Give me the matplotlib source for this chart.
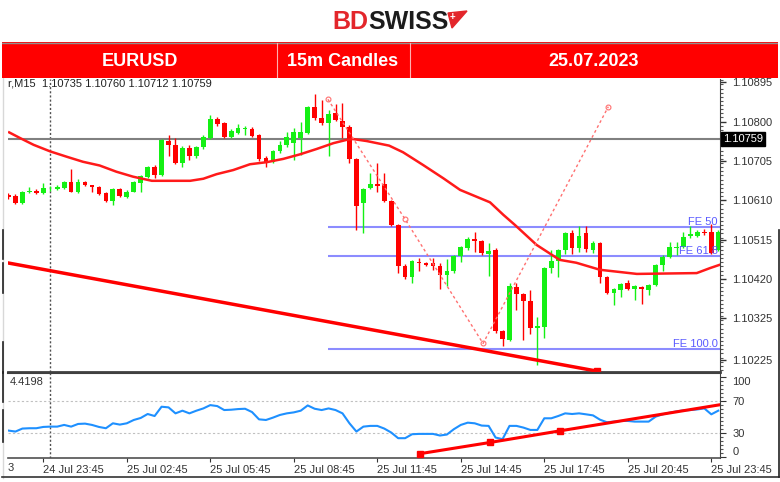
import numpy as np
import pandas as pd
import matplotlib
matplotlib.use("Agg")
import matplotlib.pyplot as plt
from matplotlib.patches import Rectangle, Polygon
from matplotlib.lines import Line2D
from matplotlib.ticker import FixedLocator, MultipleLocator

plt.rcParams['font.family'] = ['Liberation Sans', 'DejaVu Sans']

# ---- data (EURUSD M15) ----
times = pd.date_range("2023-07-24 22:30", periods=103, freq="15min")

opens = [1.10623, 1.10620, 1.10603, 1.10629, 1.10632, 1.10627, 1.10636, 1.10637, 1.10639, 1.10653,
         1.10631, 1.10653, 1.10646, 1.10641, 1.10627, 1.10608, 1.10637, 1.10619, 1.10631, 1.10651,
         1.10666, 1.10691, 1.10671, 1.10754, 1.10744, 1.10700, 1.10736, 1.10716, 1.10738, 1.10760,
         1.10806, 1.10796, 1.10764, 1.10773, 1.10782, 1.10782, 1.10767, 1.10713, 1.10703, 1.10728,
         1.10744, 1.10748, 1.10760, 1.10773, 1.10835, 1.10808, 1.10796, 1.10822, 1.10802, 1.10788,
         1.10709, 1.10603, 1.10639, 1.10649, 1.10649, 1.10607, 1.10550, 1.10451, 1.10425, 1.10462,
         1.10458, 1.10458, 1.10451, 1.10429, 1.10438, 1.10475, 1.10494, 1.10516, 1.10512, 1.10480,
         1.10490, 1.10293, 1.10273, 1.10401, 1.10383, 1.10367, 1.10301, 1.10303, 1.10446, 1.10464,
         1.10490, 1.10530, 1.10494, 1.10530, 1.10490, 1.10506, 1.10425, 1.10386, 1.10393, 1.10409,
         1.10395, 1.10401, 1.10393, 1.10405, 1.10454, 1.10474, 1.10494, 1.10498, 1.10523, 1.10524,
         1.10534, 1.10534, 1.10490]
highs = [1.10628, 1.10625, 1.10633, 1.10643, 1.10636, 1.10651, 1.10645, 1.10646, 1.10656, 1.10685,
         1.10661, 1.10657, 1.10648, 1.10644, 1.10630, 1.10640, 1.10640, 1.10634, 1.10656, 1.10672,
         1.10693, 1.10694, 1.10759, 1.10768, 1.10760, 1.10740, 1.10744, 1.10742, 1.10767, 1.10816,
         1.10810, 1.10800, 1.10782, 1.10794, 1.10790, 1.10786, 1.10770, 1.10716, 1.10731, 1.10752,
         1.10776, 1.10785, 1.10798, 1.10838, 1.10867, 1.10852, 1.10828, 1.10843, 1.10846, 1.10792,
         1.10712, 1.10640, 1.10677, 1.10701, 1.10677, 1.10610, 1.10553, 1.10455, 1.10466, 1.10470,
         1.10462, 1.10470, 1.10458, 1.10467, 1.10478, 1.10500, 1.10522, 1.10533, 1.10515, 1.10506,
         1.10494, 1.10296, 1.10409, 1.10411, 1.10386, 1.10392, 1.10327, 1.10449, 1.10490, 1.10493,
         1.10533, 1.10538, 1.10548, 1.10548, 1.10512, 1.10509, 1.10428, 1.10398, 1.10411, 1.10418,
         1.10406, 1.10404, 1.10408, 1.10457, 1.10477, 1.10508, 1.10508, 1.10534, 1.10548, 1.10537,
         1.10540, 1.10553, 1.10537]
lows = [1.10613, 1.10600, 1.10601, 1.10627, 1.10625, 1.10625, 1.10632, 1.10635, 1.10637, 1.10629,
        1.10628, 1.10644, 1.10631, 1.10623, 1.10605, 1.10599, 1.10617, 1.10616, 1.10629, 1.10631,
        1.10663, 1.10663, 1.10668, 1.10716, 1.10698, 1.10691, 1.10707, 1.10712, 1.10735, 1.10757,
        1.10790, 1.10760, 1.10760, 1.10771, 1.10768, 1.10762, 1.10706, 1.10690, 1.10700, 1.10725,
        1.10739, 1.10707, 1.10719, 1.10770, 1.10805, 1.10793, 1.10716, 1.10801, 1.10760, 1.10699,
        1.10538, 1.10530, 1.10636, 1.10631, 1.10606, 1.10547, 1.10435, 1.10419, 1.10411, 1.10438,
        1.10450, 1.10442, 1.10395, 1.10403, 1.10435, 1.10462, 1.10490, 1.10486, 1.10478, 1.10427,
        1.10290, 1.10258, 1.10270, 1.10345, 1.10273, 1.10287, 1.10212, 1.10276, 1.10435, 1.10425,
        1.10480, 1.10480, 1.10486, 1.10486, 1.10482, 1.10411, 1.10384, 1.10357, 1.10377, 1.10392,
        1.10369, 1.10360, 1.10381, 1.10402, 1.10438, 1.10471, 1.10478, 1.10495, 1.10518, 1.10521,
        1.10526, 1.10479, 1.10487]
closes = [1.10618, 1.10603, 1.10631, 1.10632, 1.10628, 1.10640, 1.10638, 1.10641, 1.10653, 1.10631,
          1.10653, 1.10646, 1.10643, 1.10626, 1.10608, 1.10637, 1.10620, 1.10631, 1.10653, 1.10669,
          1.10690, 1.10671, 1.10756, 1.10744, 1.10701, 1.10736, 1.10716, 1.10738, 1.10764, 1.10806,
          1.10794, 1.10764, 1.10778, 1.10784, 1.10785, 1.10765, 1.10709, 1.10701, 1.10728, 1.10744,
          1.10764, 1.10776, 1.10776, 1.10835, 1.10808, 1.10796, 1.10819, 1.10804, 1.10786, 1.10709,
          1.10596, 1.10637, 1.10649, 1.10645, 1.10609, 1.10550, 1.10450, 1.10424, 1.10463, 1.10458,
          1.10454, 1.10452, 1.10429, 1.10440, 1.10475, 1.10497, 1.10516, 1.10512, 1.10482, 1.10488,
          1.10293, 1.10274, 1.10403, 1.10383, 1.10367, 1.10301, 1.10305, 1.10446, 1.10464, 1.10490,
          1.10530, 1.10494, 1.10524, 1.10492, 1.10507, 1.10425, 1.10387, 1.10395, 1.10408, 1.10395,
          1.10403, 1.10395, 1.10405, 1.10454, 1.10474, 1.10497, 1.10498, 1.10522, 1.10528, 1.10534,
          1.10531, 1.10482, 1.10534]

# moving average, read at irregular candle positions
ma_pos = [0.1, 1.7, 3.6, 6.0, 8.4, 10.7, 13.1, 15.5, 17.9, 20.6, 26.1, 28.0, 29.9, 32.3, 34.7,
          37.1, 39.5, 41.9, 44.3, 46.7, 48.6, 49.5, 51.5, 54.7, 56.7, 59.6, 62.5, 64.9, 69.2,
          71.1, 72.8, 75.9, 79.2, 81.6, 85.0, 90.3, 98.9, 100.8, 102.2]
ma_val = [1.10774, 1.10760, 1.10744, 1.10728, 1.10715, 1.10703, 1.10694, 1.10679, 1.10667, 1.10657,
          1.10657, 1.10662, 1.10673, 1.10683, 1.10697, 1.10702, 1.10710, 1.10721, 1.10734, 1.10748,
          1.10756, 1.10758, 1.10753, 1.10742, 1.10726, 1.10695, 1.10663, 1.10635, 1.10605, 1.10575,
          1.10550, 1.10502, 1.10466, 1.10459, 1.10442, 1.10432, 1.10434, 1.10446, 1.10454]

last_price = 1.10759
header = "r,M15  1.10735 1.10760 1.10712 1.10759"

# fibo expansion tool
fe_pos = [45.9, 57.0, 68.2, 86.2]
fe_val = [1.10854, 1.10564, 1.10264, 1.10836]
fe_levels = [1.10546, 1.10476, 1.10251]
fe_names = ["FE 50", "FE 61.8", "FE 100.0"]

# trend line on price
tl_pos = [0.1, 84.6]
tl_val = [1.10458, 1.10197]

price_ticks = [1.10225, 1.10325, 1.10420, 1.10515, 1.10610, 1.10705, 1.10800, 1.10895]

# oscillator
osc = [33.2, 32.0, 35.7, 36.1, 36.1, 37.7, 38.1, 38.1, 40.2, 38.1,
       41.4, 41.8, 40.2, 37.7, 36.1, 42.2, 40.6, 42.2, 46.3, 48.8,
       53.7, 51.2, 62.7, 61.9, 54.5, 57.8, 54.5, 57.8, 60.6, 64.7,
       63.5, 58.6, 59.0, 59.8, 60.2, 56.1, 47.1, 46.3, 49.2, 52.5,
       54.5, 55.7, 57.8, 64.3, 60.2, 58.6, 60.6, 58.6, 54.5, 42.2,
       32.0, 38.1, 39.0, 39.0, 35.7, 30.8, 23.8, 23.8, 28.7, 29.1,
       29.1, 29.1, 27.1, 28.3, 34.9, 40.2, 43.0, 42.2, 39.4, 39.0,
       24.6, 22.6, 39.0, 39.0, 36.9, 34.0, 34.0, 48.4, 48.4, 51.2,
       54.5, 53.7, 54.5, 53.3, 52.0, 46.7, 43.5, 44.3, 45.1, 45.1,
       44.3, 44.3, 44.3, 50.4, 53.3, 55.3, 56.9, 58.2, 58.6, 59.4,
       60.6, 53.3, 57.8]
osc_tl_pos = [59.1, 69.2, 79.2, 102.5]
osc_tl_val = [4.6, 18.5, 32.8, 65.5]
osc_levels = [30, 70]
osc_ticks = [0, 30, 70, 100]
osc_value_text = "4.4198"

# ---- figure ----
W, H = 780, 482
fig = plt.figure(figsize=(W / 100, H / 100), dpi=100)


def box(x0, y0, x1, y1):
    return [x0 / W, 1 - y1 / H, (x1 - x0) / W, (y1 - y0) / H]


ax = fig.add_axes(box(8, 79, 720, 372))
ax2 = fig.add_axes(box(8, 373, 720, 458), sharex=ax)

green, red = "#14f014", "#ff0000"
idx = np.arange(len(times))
o, h, l, c = map(np.array, (opens, highs, lows, closes))
cols = np.where(c >= o, green, red)
ax.vlines(idx, l, h, colors=cols, lw=1, zorder=3)
body = np.maximum(np.abs(c - o), 0.00002)
ax.bar(idx, body, bottom=np.minimum(o, c), width=0.68, color=cols, zorder=4)

ax.plot(ma_pos, ma_val, color="#ff1a1a", lw=1.8, zorder=5)
ax.axhline(last_price, color="#808080", lw=1.5, zorder=2)
ax.plot(tl_pos, tl_val, color="#ff0000", lw=2.5, zorder=5)
ax.plot(tl_pos[-1:], tl_val[-1:], "s", color="#ff0000", ms=4, zorder=6, clip_on=False)
ax.plot(fe_pos, fe_val, color="#ff7070", lw=1, ls=(0, (2, 2)), zorder=5)
ax.plot(fe_pos, fe_val, "o", mfc="none", mec="#ff7070", ms=3.5, mew=0.8, zorder=5)
for lv, nm in zip(fe_levels, fe_names):
    ax.hlines(lv, fe_pos[0], 102.3, color="#8c8cff", lw=1.5, zorder=2)
    ax.text(0.997, lv, nm, transform=ax.get_yaxis_transform(), ha="right", va="bottom",
            color="#5a5aff", fontsize=8, zorder=7)

ax.axvline(6, color="#505050", lw=1, ls=(0, (1.5, 1.5)), zorder=1)
ax2.axvline(6, color="#505050", lw=1, ls=(0, (1.5, 1.5)), zorder=1)

ax.set_xlim(-0.07, 102.25)
ax.set_ylim(1.10195, 1.10903)
ax.yaxis.tick_right()
ax.yaxis.set_major_locator(FixedLocator(price_ticks))
ax.yaxis.set_major_formatter(lambda v, p: f"{v:.5f}")
ax.yaxis.set_minor_locator(MultipleLocator(0.0001))
ax.tick_params(axis="y", which="major", length=4, width=1, labelsize=8, pad=5, colors="#333333")
ax.tick_params(axis="y", which="minor", length=2, width=0.8, colors="#555555")
ax.tick_params(axis="x", bottom=False, labelbottom=False)
for s in ("left", "top"):
    ax.spines[s].set_visible(False)
ax.spines["bottom"].set_color("#404040")
ax.spines["bottom"].set_linewidth(2)
ax.spines["right"].set_color("#404040")

ax.text(1.004, last_price, f"{last_price:.5f}", transform=ax.get_yaxis_transform(),
        ha="left", va="center", color="white", fontsize=8, clip_on=False, zorder=10,
        bbox=dict(boxstyle="square,pad=0.18", fc="black", ec="black"))

# oscillator panel
ax2.plot(idx, osc, color="#1e90ff", lw=1.5, zorder=3)
ax2.plot(osc_tl_pos, osc_tl_val, color="#ff0000", lw=2.2, zorder=4)
ax2.plot(osc_tl_pos[:-1], osc_tl_val[:-1], "s", color="#ff0000", ms=4, zorder=5)
for lv in osc_levels:
    ax2.axhline(lv, color="#c0c0c0", lw=0.8, ls=(0, (2, 2)), zorder=1)
ax2.set_ylim(-0.7, 104.4)
ax2.yaxis.tick_right()
ax2.yaxis.set_major_locator(FixedLocator(osc_ticks))
ax2.yaxis.set_minor_locator(MultipleLocator(5))
ax2.tick_params(axis="y", which="major", length=4, labelsize=8, pad=5, colors="#333333")
ax2.tick_params(axis="y", which="minor", length=2, width=0.8, colors="#555555")
for lab, v in zip(ax2.get_yticklabels(), osc_ticks):
    if v == 0:
        lab.set_va("bottom")
    if v == 100:
        lab.set_va("top")
ax2.spines["left"].set_visible(False)
ax2.spines["top"].set_color("#404040")
ax2.spines["top"].set_linewidth(1.5)
ax2.spines["bottom"].set_color("#505050")
ax2.spines["bottom"].set_linewidth(1.2)
ax2.spines["right"].set_color("#404040")
ax2.text(0.003, 0.86, osc_value_text, transform=ax2.transAxes, fontsize=8, color="#333333")

tick_idx = [i for i, t in enumerate(times) if t.minute == 45 and t.hour % 3 == 2]
ax2.set_xticks(tick_idx)
ax2.set_xticklabels([times[i].strftime("%d %b %H:%M") for i in tick_idx], ha="left")
ax2.tick_params(axis="x", length=3, labelsize=8, pad=2, colors="#333333")
fig.text(8 / W, 1 - 468 / H, "3", fontsize=8, color="#333333", va="center")

# header text under banner
fig.text(8 / W, 1 - 84 / H, header, fontsize=8, color="#222222", va="center", zorder=1)

# frame lines
fig.add_artist(Line2D([2.5 / W, 2.5 / W], [1 - 78 / H, 1 - 478 / H], color="#d8d8d8", lw=1))
for y0, y1 in [(230, 259), (263, 293), (342, 373), (372, 402), (410, 442)]:
    fig.add_artist(Line2D([2.5 / W, 2.5 / W], [1 - y0 / H, 1 - y1 / H], color="#222222", lw=1.2))
fig.add_artist(Line2D([2 / W, 779 / W], [1 - 477 / H, 1 - 477 / H], color="#333333", lw=1.2))
fig.add_artist(Line2D([779 / W, 779 / W], [1 - 230 / H, 1 - 477 / H], color="#222222", lw=1.2))

# banner
axb = fig.add_axes(box(2, 42, 778, 78))
axb.set_zorder(5)
axb.set_xlim(2, 778)
axb.set_ylim(78, 42)
axb.axis("off")
axb.add_patch(Rectangle((2, 42), 776, 36, color="#ff0000"))
axb.plot([2, 778], [42.6, 42.6], color="#909090", lw=1)
for xs in (277, 410):
    axb.plot([xs, xs], [43, 78], color="#ffb0b0", lw=0.8)
for xc, txt in [(140, "EURUSD"), (343, "15m Candles"), (594, "25.07.2023")]:
    axb.text(xc, 61, txt, ha="center", va="center", color="white", fontsize=13,
             fontweight="bold")

# logo
fig.text(332 / W, 1 - 29 / H, "BD", color="#e3262b", fontsize=18, fontweight="bold", va="baseline")
fig.text(368 / W, 1 - 29 / H, "SWISS", color="#1c1c1c", fontsize=18, fontweight="bold", va="baseline")
flag = [(448, 13), (467, 11), (452, 28)]
fig.add_artist(Polygon([(x / W, 1 - y / H) for x, y in flag], closed=True, color="#e3262b"))
fig.text(452 / W, 1 - 17 / H, "+", color="white", fontsize=7, fontweight="bold", ha="center", va="center")

fig.savefig("out.png", dpi=100)
